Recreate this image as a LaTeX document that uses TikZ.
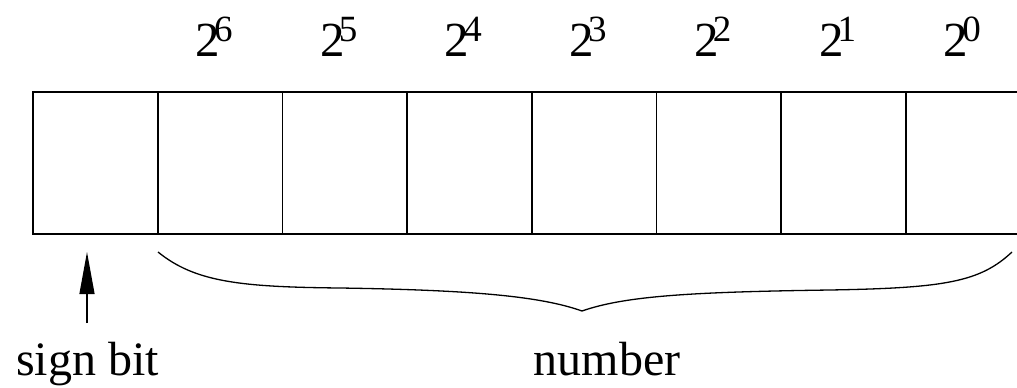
\documentclass[tikz,border=0pt]{standalone}
\usepackage{fontspec}
\setmainfont{Liberation Serif}
\usetikzlibrary{arrows.meta}

\newcommand{\bitpow}[1]{2\kern-6pt\raisebox{15pt}{\fontsize{37}{40}\selectfont #1}}

\begin{document}
\begin{tikzpicture}[
    x=1pt, y=-1pt,
    >={Triangle[length=42pt,width=15pt]},
    cell/.style={draw, line width=1.7pt, minimum width=124.7pt, minimum height=142pt, inner sep=0pt},
    weight/.style={anchor=base, inner sep=0pt, font=\rmfamily\fontsize{49}{52}\selectfont},
    caption/.style={anchor=base, inner sep=0pt, font=\rmfamily\fontsize{48}{52}\selectfont}
]
\clip (0,0) rectangle (1017,388);

% Cells
\foreach \i in {0,...,7}
    \node[cell] (c\i) at (95.35+124.7*\i,163) {};

% Bit weights
\foreach \i/\e in {1/6,2/5,3/4,4/3,5/2,6/1,7/0}
    \node[weight] (w\e) at (89.35+124.7*\i,56) {\bitpow{\e}};

% Captions
\node[caption, anchor=base west] (sign) at (16,375) {sign bit};
\node[caption] (num) at (607,375) {number};

% Sign arrow
\coordinate (signtail) at (87,323);
\coordinate (signtip) at (87,252);
\draw[->, line width=1.2pt] (signtail) -- (signtip);

% Brace
\coordinate (bl) at (158,252);
\coordinate (bm) at (582,311);
\coordinate (br) at (1012,252);
\draw[line width=1.3pt] (bl) .. controls (195,282) and (240,287) .. (340,288)
    .. controls (470,290) and (540,296) .. (bm)
    .. controls (625,296) and (690,292) .. (830,290)
    .. controls (945,288) and (980,282) .. (br);

\end{tikzpicture}
\end{document}
